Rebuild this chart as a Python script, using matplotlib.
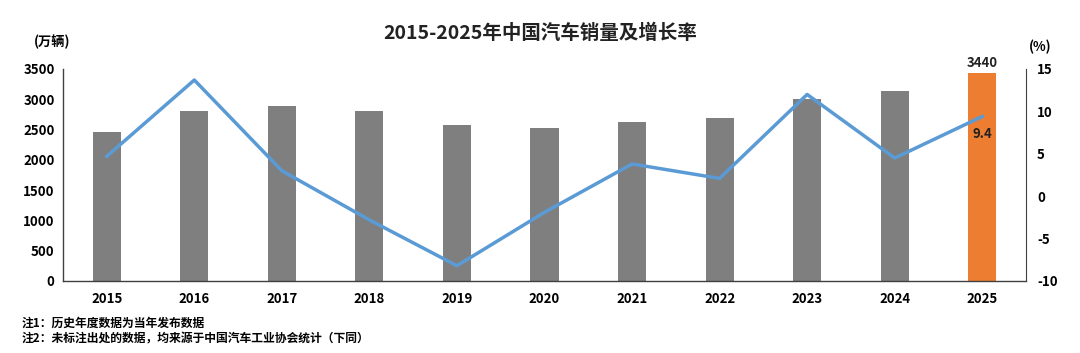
import matplotlib
matplotlib.use("Agg")
import matplotlib.pyplot as plt

plt.rcParams['font.family'] = ['Noto Sans CJK SC', 'DejaVu Sans']
plt.rcParams['axes.unicode_minus'] = False

years = ["2015", "2016", "2017", "2018", "2019", "2020", "2021", "2022", "2023", "2024", "2025"]
sales = [2459.8, 2802.8, 2887.9, 2808.1, 2576.9, 2531.1, 2627.5, 2686.4, 3009.4, 3143.6, 3440]
growth = [4.7, 13.7, 3.0, -2.8, -8.2, -1.9, 3.8, 2.1, 12.0, 4.5, 9.4]
left_ticks = [0, 500, 1000, 1500, 2000, 2500, 3000, 3500]
right_ticks = [-10, -5, 0, 5, 10, 15]

bar_colors = ["#7f7f7f"] * (len(years) - 1) + ["#ed7d31"]

fig = plt.figure(figsize=(10.8, 3.53), dpi=100)
ax = fig.add_axes([63/1080, 1-281/353, (1026-63)/1080, (281-69)/353])
x = list(range(len(years)))
ax.bar(x, sales, width=0.32, color=bar_colors, zorder=2)
ax.set_xlim(-0.5, len(years) - 0.5)
ax.set_ylim(0, 3500)
ax.set_yticks(left_ticks)
ax.set_xticks(x)
ax.set_xticklabels(years)
for lab in ax.get_xticklabels() + ax.get_yticklabels():
    lab.set_fontweight('bold')
    lab.set_fontsize(9.5)
ax.tick_params(axis='both', length=0, pad=6)
ax.tick_params(axis='x', pad=8)
for s in ['top', 'right']:
    ax.spines[s].set_visible(False)
for s in ['left', 'bottom']:
    ax.spines[s].set_color('#404040')
    ax.spines[s].set_linewidth(1.0)

ax2 = ax.twinx()
ax2.plot(x, growth, color="#5b9bd5", lw=2.5, zorder=3)
ax2.set_ylim(-10, 15)
ax2.set_yticks(right_ticks)
for lab in ax2.get_yticklabels():
    lab.set_fontweight('bold')
    lab.set_fontsize(9.5)
ax2.tick_params(axis='y', length=0, pad=8)
for s in ['top', 'left', 'bottom']:
    ax2.spines[s].set_visible(False)
ax2.spines['right'].set_color('#404040')

ax.text(x[-1], sales[-1] + 40, f"{sales[-1]:.0f}", ha='center', va='bottom',
        fontsize=9.5, fontweight='bold', color='#222222')
ax2.text(x[-1], growth[-1] - 1.2, f"{growth[-1]}", ha='center', va='top',
         fontsize=9.5, fontweight='bold', color='#222222')

fig.text(540/1080, 1-33/353, "2015-2025年中国汽车销量及增长率", ha='center', va='center',
         fontsize=14, fontweight='bold', color='#222222')
fig.text(52/1080, 1-42/353, "(万辆)", ha='center', va='center', fontsize=9.5, fontweight='bold')
fig.text(1040/1080, 1-47/353, "(%)", ha='center', va='center', fontsize=9.5, fontweight='bold')

fig.text(22/1080, 1-323/353, "注1：历史年度数据为当年发布数据", ha='left', va='center',
         fontsize=8.5, fontweight='bold')
fig.text(22/1080, 1-339/353, "注2：未标注出处的数据，均来源于中国汽车工业协会统计（下同）", ha='left', va='center',
         fontsize=8.5, fontweight='bold')

fig.savefig("out.png", dpi=100)
